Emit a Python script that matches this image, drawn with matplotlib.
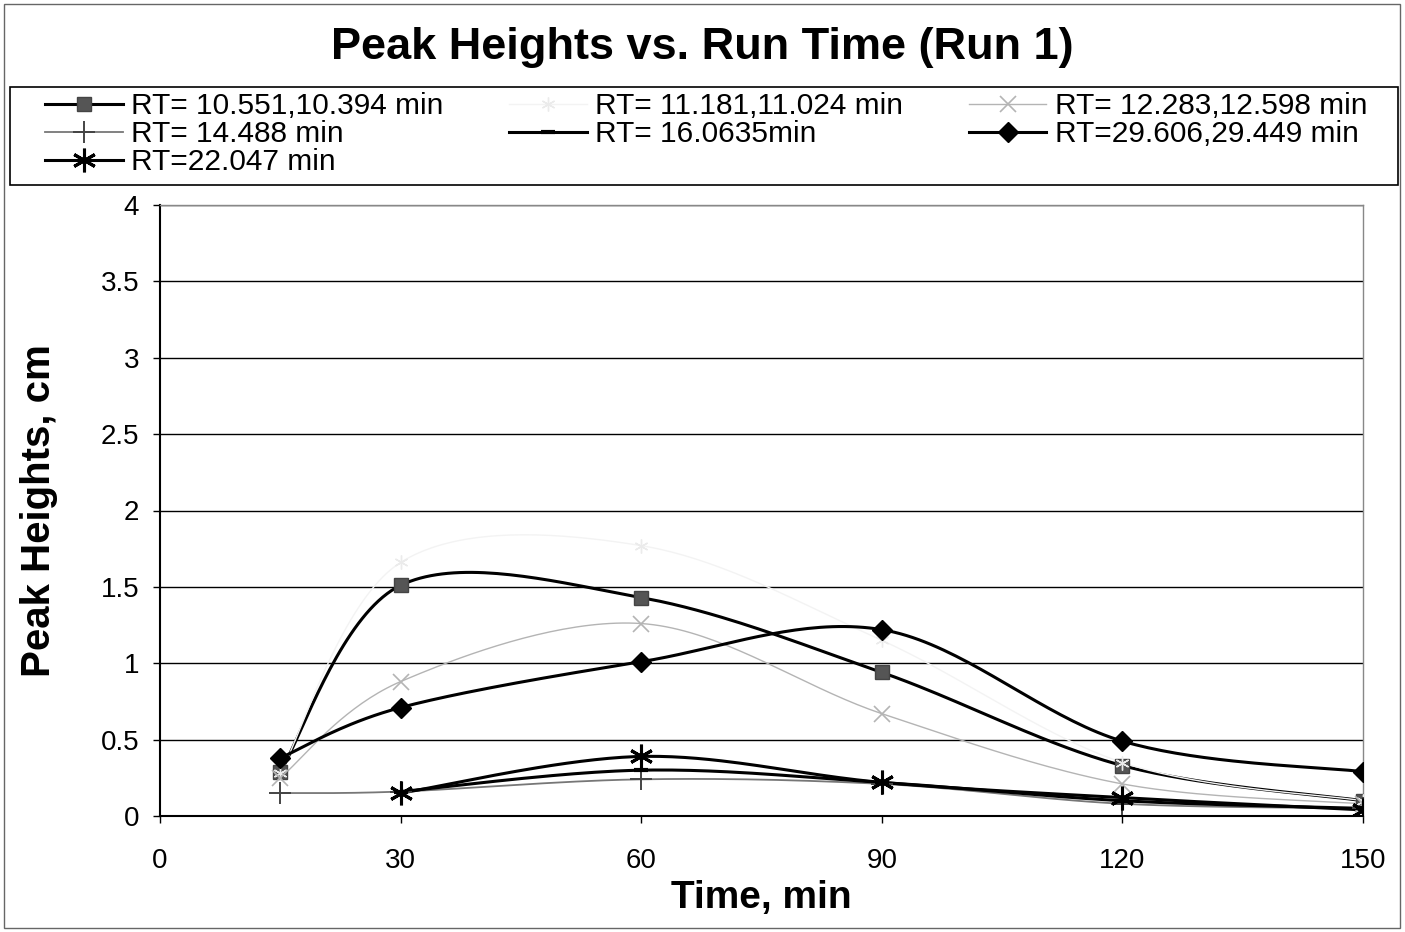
import numpy as np
import matplotlib
matplotlib.use("Agg")
import matplotlib.pyplot as plt
from matplotlib.lines import Line2D

plt.rcParams['font.family'] = ['Liberation Sans', 'DejaVu Sans']

# Sampling times (min)
times = [15, 30, 60, 90, 120, 150]
times_late = [30, 60, 90, 120, 150]

# Peak heights (cm) for each retention-time peak
rt_10551 = [0.29, 1.51, 1.43, 0.94, 0.33, 0.10]
rt_11181 = [0.28, 1.66, 1.77, 1.15, 0.35, 0.10]
rt_12283 = [0.25, 0.88, 1.26, 0.67, 0.21, 0.08]
rt_14488 = [0.15, 0.16, 0.24, 0.21, 0.08, 0.05]
rt_160635 = [0.16, 0.30, 0.22, 0.10, 0.05]
rt_29606 = [0.38, 0.71, 1.01, 1.22, 0.49, 0.29]
rt_22047 = [0.15, 0.39, 0.22, 0.12, 0.04]

labels = ["RT= 10.551,10.394 min", "RT= 11.181,11.024 min",
          "RT= 12.283,12.598 min", "RT= 14.488 min", "RT= 16.0635min",
          "RT=29.606,29.449 min", "RT=22.047 min"]


def smooth(x, y, n=40):
    """Bezier smoothing through the points (Catmull-Rom style control points)."""
    x = np.asarray(x, float)
    y = np.asarray(y, float)
    pts = np.column_stack([x, y])
    out = []
    for i in range(len(pts) - 1):
        p0 = pts[i - 1] if i > 0 else pts[i]
        p1 = pts[i]
        p2 = pts[i + 1]
        p3 = pts[i + 2] if i + 2 < len(pts) else pts[i + 1]
        c1 = p1 + (p2 - p0) / 6.0
        c2 = p2 - (p3 - p1) / 6.0
        t = np.linspace(0, 1, n)[:, None]
        seg = ((1 - t) ** 3) * p1 + 3 * ((1 - t) ** 2) * t * c1 + 3 * (1 - t) * t ** 2 * c2 + t ** 3 * p2
        out.append(seg if i == 0 else seg[1:])
    s = np.vstack(out)
    return s[:, 0], s[:, 1]


W, H = 1405, 932
fig = plt.figure(figsize=(W / 100, H / 100), dpi=100)
ax = fig.add_axes([160 / W, 1 - 816 / H, (1363 - 160) / W, (816 - 205) / H])

series = [
    # values, x, line colour, lw, marker, marker size, marker face, marker edge, mew
    (rt_10551, times, 'black', 2.2, 's', 10, '#555555', '#444444', 1.0),
    (rt_11181, times, '#f3f3f3', 1.0, (6, 2, 0), 10, 'none', '#ebebeb', 1.0),
    (rt_12283, times, '#b4b4b4', 1.0, 'x', 11, 'none', '#b4b4b4', 1.2),
    (rt_14488, times, '#777777', 1.3, '+', 16, 'none', '#444444', 1.4),
    (rt_160635, times_late, 'black', 2.2, '_', 10, 'black', 'black', 3.0),
    (rt_29606, times, 'black', 2.2, 'D', 10, 'black', 'black', 1.0),
    (rt_22047, times_late, 'black', 2.2, (6, 2, 0), 17, 'black', 'black', 2.2),
]

handles = []
for (vals, xs, col, lw, mk, ms, mfc, mec, mew), lab in zip(series, labels):
    sx, sy = smooth(xs, vals)
    ax.plot(sx, sy, color=col, lw=lw, zorder=3, solid_capstyle='round')
    ax.plot(xs, vals, ls='none', marker=mk, ms=ms, mfc=mfc, mec=mec, mew=mew, zorder=4)
    handles.append(Line2D([], [], color=col, lw=lw, marker=mk, ms=ms, mfc=mfc,
                          mec=mec, mew=mew, label=lab))

ax.set_xlim(0, 150)
ax.set_ylim(0, 4)
ax.set_xticks([0, 30, 60, 90, 120, 150])
ax.set_yticks([0, 0.5, 1, 1.5, 2, 2.5, 3, 3.5, 4])
ax.set_yticklabels(['0', '0.5', '1', '1.5', '2', '2.5', '3', '3.5', '4'])
ax.yaxis.grid(True, color='black', lw=1.0)
ax.set_axisbelow(True)
ax.tick_params(axis='both', labelsize=20, direction='out', length=5, width=1)
ax.tick_params(axis='x', pad=18)
ax.tick_params(axis='y', pad=10)
for side in ['left', 'bottom']:
    ax.spines[side].set_linewidth(1.5)
for side in ['top', 'right']:
    ax.spines[side].set_color('#888888')
    ax.spines[side].set_linewidth(1.0)

ax.set_xlabel('Time, min', fontsize=28, fontweight='bold')
ax.set_ylabel('Peak Heights, cm', fontsize=29, fontweight='bold')
ax.xaxis.set_label_coords(0.5, (816 - 880) / 611)
ax.yaxis.set_label_coords((58 - 160) / 1203, 0.5)

fig.text(0.5, 1 - 47 / H, 'Peak Heights vs. Run Time (Run 1)', ha='center', va='center',
         fontsize=32.5, fontweight='bold')

# Legend box
fig.patches.append(plt.Rectangle((10 / W, 1 - 185 / H), 1388 / W, 98 / H,
                                 transform=fig.transFigure, fill=False,
                                 edgecolor='black', lw=1.2))

# Legend entries fill row by row: reorder into column-major order for ncol=3
order = [0, 3, 6, 1, 4, 2, 5]
leg = fig.legend([handles[i] for i in order], [labels[i] for i in order],
                 ncol=3, loc='upper left',
                 bbox_to_anchor=(45 / W, 1 - 92 / H),
                 fontsize=21.5, frameon=False,
                 handlelength=2.6, handletextpad=0.28, labelspacing=0.0,
                 columnspacing=2.2, borderpad=0, borderaxespad=0)

# Thin outer frame around the chart area
fig.patches.append(plt.Rectangle((4 / W, 4 / H), 1396 / W, 924 / H,
                                 transform=fig.transFigure, fill=False,
                                 edgecolor='#666666', lw=1.0))

fig.savefig('out.png', dpi=100)
